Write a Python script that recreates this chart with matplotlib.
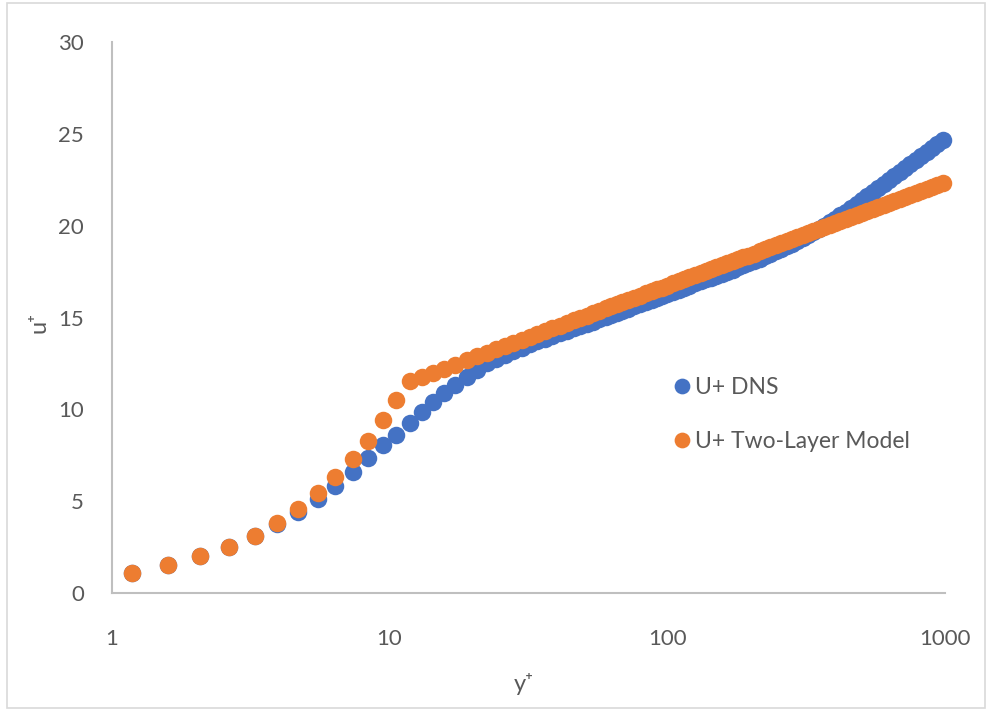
import matplotlib
matplotlib.use("Agg")
import matplotlib.pyplot as plt
from matplotlib.patches import Rectangle
from matplotlib.ticker import FixedLocator, FixedFormatter, NullLocator

plt.rcParams['font.family'] = ['Lato', 'DejaVu Sans']

# wall distance y+ (shared grid)
y_plus = [1.18, 1.60, 2.08, 2.65, 3.28, 3.95, 4.70, 5.54, 6.38, 7.41, 8.39, 9.50,
          10.55, 11.85, 13.05, 14.37, 15.75, 17.2, 18.97, 20.6, 22.4, 24.2, 26.0,
          27.9, 29.9, 32.0, 34.1, 36.3, 38.6, 41.0, 43.5, 46.0, 48.6, 51.3, 54.1,
          57.0, 60, 63, 66, 69, 72, 76, 80, 84, 88, 92, 96, 100, 105, 110, 115,
          120, 126, 132, 138, 144, 150, 157, 164, 172, 180, 188, 196, 205, 215,
          225, 235, 246, 257, 269, 281, 294, 307, 321, 336, 351, 367, 384, 402,
          420, 440, 460, 481, 503, 526, 550, 575, 601, 628, 657, 687, 718, 751,
          785, 821, 858, 897, 938, 980]

# U+ DNS
u_dns = [1.09, 1.52, 2.03, 2.53, 3.12, 3.78, 4.40, 5.11, 5.83, 6.61, 7.34, 8.06,
         8.61, 9.24, 9.88, 10.42, 10.88, 11.33, 11.78, 12.15, 12.51, 12.75, 12.97,
         13.17, 13.36, 13.54, 13.70, 13.85, 14.00, 14.14, 14.28, 14.41, 14.53,
         14.66, 14.78, 14.91, 15.04, 15.16, 15.27, 15.38, 15.48, 15.61, 15.74,
         15.86, 15.97, 16.08, 16.18, 16.28, 16.40, 16.51, 16.62, 16.73, 16.85,
         16.96, 17.07, 17.17, 17.27, 17.38, 17.49, 17.61, 17.73, 17.84, 17.95,
         18.07, 18.20, 18.33, 18.46, 18.60, 18.73, 18.88, 19.02, 19.17, 19.32,
         19.48, 19.65, 19.82, 19.99, 20.17, 20.36, 20.55, 20.75, 20.95, 21.16,
         21.37, 21.59, 21.81, 22.03, 22.25, 22.46, 22.68, 22.90, 23.12, 23.34,
         23.56, 23.78, 23.99, 24.21, 24.43, 24.65]

# U+ Two-Layer Model
u_model = [1.09, 1.52, 2.03, 2.53, 3.13, 3.81, 4.57, 5.44, 6.34, 7.29, 8.30, 9.42,
           10.51, 11.53, 11.77, 12.00, 12.22, 12.44, 12.68, 12.88, 13.08, 13.27,
           13.45, 13.62, 13.79, 13.95, 14.11, 14.26, 14.41, 14.56, 14.70, 14.84,
           14.97, 15.10, 15.23, 15.36, 15.49, 15.61, 15.72, 15.83, 15.93, 16.06,
           16.19, 16.31, 16.42, 16.53, 16.63, 16.73, 16.85, 16.96, 17.07, 17.18,
           17.30, 17.41, 17.52, 17.62, 17.72, 17.83, 17.94, 18.06, 18.17, 18.27,
           18.37, 18.48, 18.60, 18.71, 18.82, 18.93, 19.03, 19.15, 19.25, 19.36,
           19.47, 19.58, 19.69, 19.79, 19.90, 20.01, 20.13, 20.23, 20.35, 20.45,
           20.56, 20.67, 20.78, 20.89, 21.00, 21.11, 21.21, 21.32, 21.43, 21.54,
           21.65, 21.76, 21.87, 21.97, 22.08, 22.19, 22.30]

x_ticks = [1, 10, 100, 1000]
x_tick_labels = ["1", "10", "100", "1000"]
y_ticks = [0, 5, 10, 15, 20, 25, 30]
y_tick_labels = ["0", "5", "10", "15", "20", "25", "30"]

BLUE = "#4472C4"
ORANGE = "#ED7D31"
GREY_TXT = "#595959"
GREY_AX = "#BFBFBF"

fig = plt.figure(figsize=(9.92, 7.13), dpi=100)
ax = fig.add_axes([111.7 / 992, 1 - 593.3 / 713, (945 - 111.7) / 992, (593.3 - 41.7) / 713])

ms = 17.5 * 72 / 100
ax.plot(y_plus, u_dns, linestyle="none", marker="o", ms=ms, color=BLUE,
        markeredgewidth=0, label="U+ DNS", clip_on=False, zorder=3)
ax.plot(y_plus, u_model, linestyle="none", marker="o", ms=ms, color=ORANGE,
        markeredgewidth=0, label="U+ Two-Layer Model", clip_on=False, zorder=4)

ax.set_xscale("log")
ax.set_xlim(1, 1000)
ax.set_ylim(0, 30)
ax.xaxis.set_major_locator(FixedLocator(x_ticks))
ax.xaxis.set_major_formatter(FixedFormatter(x_tick_labels))
ax.xaxis.set_minor_locator(NullLocator())
ax.yaxis.set_major_locator(FixedLocator(y_ticks))
ax.yaxis.set_major_formatter(FixedFormatter(y_tick_labels))

for s in ["top", "right"]:
    ax.spines[s].set_visible(False)
for s in ["left", "bottom"]:
    ax.spines[s].set_color(GREY_AX)
    ax.spines[s].set_linewidth(1.5)

ax.tick_params(axis="both", length=0, labelsize=16, labelcolor=GREY_TXT)
ax.tick_params(axis="x", pad=26)
ax.tick_params(axis="y", pad=20)

fig.text(524 / 992, 1 - 684 / 713, "y\u207a", ha="center", va="center",
         fontsize=17, color=GREY_TXT)
fig.text(39 / 992, 1 - 322 / 713, "u\u207a", ha="center", va="center",
         fontsize=17, color=GREY_TXT, rotation=90)

leg = ax.legend(loc="upper left", bbox_to_anchor=(654 / 992, 1 - 356 / 713),
                bbox_transform=fig.transFigure, frameon=False, fontsize=16.5,
                labelcolor=GREY_TXT, handlelength=0.6, handletextpad=0.3,
                labelspacing=1.45, markerscale=0.9)

fig.patches.append(Rectangle((7 / 992, 1 - 708 / 713), 978 / 992, 705 / 713,
                             transform=fig.transFigure, fill=False,
                             edgecolor="#D9D9D9", linewidth=1.2))

fig.savefig("out.png", dpi=100)
